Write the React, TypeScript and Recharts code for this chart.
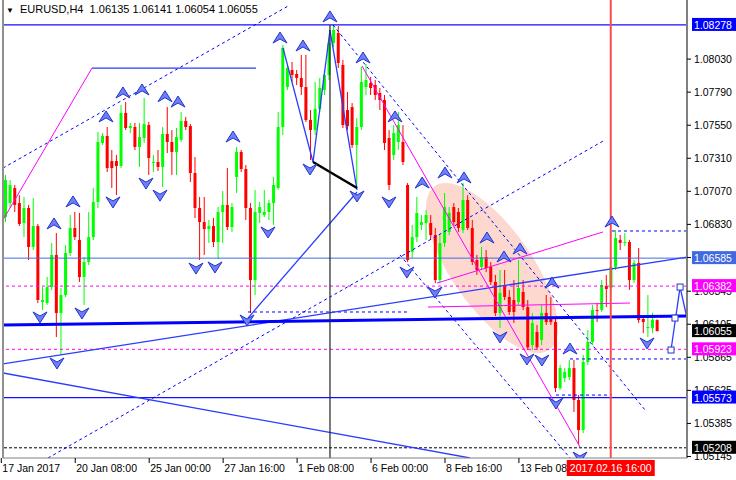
import React from 'react';
import { ComposedChart, Bar, XAxis, YAxis, ReferenceLine, ReferenceArea, Scatter } from 'recharts';

// ---- OHLC (EURUSD H4) ----
const opens = [1.06884,1.06985,1.07094,1.06985,1.06840,1.06949,1.06666,1.06818,1.06266,1.06259,1.06375,1.06608,1.06187,1.06317,1.06622,1.06804,1.06717,1.06448,1.06557,1.06738,1.06993,1.07421,1.07472,1.07290,1.07290,1.07254,1.07639,1.07530,1.07537,1.07392,1.07457,1.07551,1.07276,1.07283,1.07247,1.07486,1.07428,1.07356,1.07443,1.07581,1.07544,1.07203,1.06949,1.06847,1.06796,1.06818,1.06702,1.06920,1.06971,1.06811,1.07174,1.07356,1.07232,1.06949,1.06426,1.06913,1.06898,1.06920,1.06985,1.07094,1.07537,1.07827,1.07951,1.07922,1.07893,1.07827,1.07588,1.07515,1.07668,1.07806,1.07915,1.08147,1.08219,1.07987,1.07660,1.07682,1.07406,1.07537,1.07827,1.07856,1.07842,1.07784,1.07733,1.07457,1.07334,1.07428,1.07428,1.07116,1.06630,1.06738,1.06826,1.06840,1.06840,1.06753,1.06426,1.06695,1.06775,1.06956,1.06920,1.06789,1.07007,1.06804,1.06571,1.06521,1.06593,1.06521,1.06412,1.06187,1.06390,1.06303,1.06281,1.06266,1.06339,1.06230,1.05954,1.06049,1.05991,1.06187,1.06158,1.06121,1.05642,1.05715,1.05722,1.05787,1.05555,1.05337,1.05831,1.05976,1.06208,1.06208,1.06383,1.06368,1.06521,1.06717,1.06695,1.06702,1.06426,1.06550,1.06143,1.06078,1.06078,1.06135];
const highs = [1.07189,1.07152,1.07116,1.07042,1.07029,1.06971,1.07021,1.06833,1.06375,1.06448,1.06695,1.06767,1.06368,1.06680,1.06898,1.06920,1.06913,1.06593,1.06920,1.07094,1.07501,1.07493,1.07537,1.07370,1.07334,1.07697,1.07718,1.07566,1.07566,1.07566,1.07748,1.07573,1.07334,1.07370,1.07537,1.07682,1.07515,1.07530,1.07646,1.07610,1.07559,1.07319,1.07029,1.07029,1.06862,1.06876,1.06956,1.07072,1.07239,1.06985,1.07392,1.07370,1.07261,1.06985,1.07080,1.06993,1.07080,1.07007,1.07174,1.07646,1.08132,1.07987,1.08009,1.07951,1.08060,1.08060,1.07660,1.07864,1.07893,1.07951,1.08183,1.08278,1.08270,1.08023,1.07791,1.07711,1.07602,1.07973,1.07994,1.07900,1.07878,1.07820,1.07769,1.07515,1.07551,1.07646,1.07551,1.07130,1.06826,1.07029,1.06898,1.06934,1.06898,1.06804,1.06753,1.07058,1.06956,1.06985,1.06949,1.07130,1.07042,1.06862,1.06608,1.06666,1.06644,1.06557,1.06463,1.06499,1.06499,1.06354,1.06426,1.06571,1.06426,1.06281,1.06187,1.06100,1.06245,1.06317,1.06303,1.06150,1.05810,1.05787,1.05845,1.05845,1.05591,1.05882,1.06063,1.06245,1.06259,1.06426,1.06463,1.06571,1.06789,1.06753,1.06767,1.06717,1.06571,1.06659,1.06158,1.06317,1.06187,1.06141];
const lows = [1.06847,1.06949,1.06920,1.06818,1.06738,1.06571,1.06644,1.06259,1.06208,1.06245,1.06354,1.06012,1.05882,1.06303,1.06600,1.06717,1.06412,1.06245,1.06535,1.06717,1.06949,1.07406,1.07210,1.07094,1.07042,1.07239,1.07515,1.07493,1.07370,1.07247,1.07421,1.07189,1.07210,1.07218,1.07101,1.07348,1.07189,1.07189,1.07428,1.07515,1.07138,1.06876,1.06571,1.06608,1.06695,1.06666,1.06579,1.06695,1.06789,1.06775,1.07058,1.07210,1.06862,1.06187,1.06317,1.06840,1.06884,1.06862,1.06826,1.07080,1.07479,1.07806,1.07864,1.07842,1.07769,1.07573,1.07297,1.07479,1.07646,1.07769,1.07878,1.08118,1.07965,1.07530,1.07515,1.07385,1.07094,1.07515,1.07769,1.07769,1.07733,1.07660,1.07370,1.07080,1.07297,1.07370,1.07261,1.06557,1.06586,1.06702,1.06789,1.06717,1.06717,1.06404,1.06404,1.06666,1.06753,1.06826,1.06775,1.06767,1.06789,1.06535,1.06463,1.06499,1.06484,1.06390,1.06165,1.06078,1.06281,1.06172,1.06114,1.06245,1.06208,1.05918,1.05918,1.05918,1.05954,1.06100,1.06100,1.05613,1.05628,1.05686,1.05700,1.05468,1.05228,1.05315,1.05810,1.05954,1.06121,1.06194,1.06230,1.06339,1.06499,1.06644,1.06673,1.06354,1.06404,1.06114,1.06041,1.06012,1.06041,1.06054];
const closes = [1.07152,1.07116,1.06971,1.06833,1.06949,1.06666,1.06818,1.06281,1.06281,1.06375,1.06608,1.06187,1.06317,1.06622,1.06804,1.06738,1.06448,1.06557,1.06738,1.06993,1.07428,1.07472,1.07239,1.07239,1.07254,1.07639,1.07530,1.07544,1.07392,1.07464,1.07559,1.07312,1.07283,1.07247,1.07486,1.07428,1.07356,1.07464,1.07581,1.07537,1.07203,1.06949,1.06847,1.06796,1.06818,1.06702,1.06920,1.06971,1.06811,1.06956,1.07356,1.07232,1.06949,1.06426,1.06920,1.06956,1.06920,1.06985,1.07116,1.07537,1.08111,1.07965,1.07915,1.07893,1.07827,1.07588,1.07515,1.07668,1.07820,1.07915,1.08147,1.08241,1.08002,1.07551,1.07544,1.07406,1.07537,1.07864,1.07878,1.07820,1.07769,1.07733,1.07421,1.07116,1.07493,1.07551,1.07283,1.06571,1.06738,1.06913,1.06847,1.06898,1.06753,1.06426,1.06695,1.06956,1.06913,1.06847,1.06804,1.07007,1.06804,1.06557,1.06499,1.06593,1.06513,1.06412,1.06187,1.06332,1.06303,1.06194,1.06194,1.06368,1.06230,1.05937,1.06114,1.05937,1.06187,1.06121,1.06121,1.05642,1.05787,1.05758,1.05787,1.05555,1.05337,1.05831,1.05976,1.06208,1.06201,1.06390,1.06361,1.06521,1.06731,1.06695,1.06702,1.06426,1.06550,1.06136,1.06121,1.06085,1.06136,1.06055];
const SLOTS = 148;

// ---- axis ticks ----
const xTickIdx = [0, 16, 32, 48, 64, 80, 96, 112, 131];
const xTickText = ['17 Jan 2017', '20 Jan 08:00', '25 Jan 00:00', '27 Jan 16:00', '1 Feb 08:00', '6 Feb 00:00', '8 Feb 16:00', '13 Feb 08:00', '2017.02.16 16:00'];
const yTicks = [1.0803, 1.0779, 1.0755, 1.0731, 1.0707, 1.0683, 1.0659, 1.06345, 1.06105, 1.05865, 1.05625, 1.05385, 1.05145];
const boxPrices = [1.08278, 1.06585, 1.06382, 1.05923, 1.05573, 1.05208, 1.06055];
const boxColors = ['#0000ff', '#4169e1', '#ff00ff', '#ff00ff', '#0000ff', '#000000', '#000000'];

// ---- horizontal levels ----
const blueLevels = [1.08278, 1.05573];
const royalLevels = [1.06585];
const magentaLevels = [1.06382, 1.05923];
const blackLevels = [1.05208];

// ---- trend lines [bar1, price1, bar2, price2] ----
const blueSolidLines = [
  [-0.5, 1.05817, 147.5, 1.06593],
  [-0.5, 1.05751, 100.55, 1.05134],
  [52.51, 1.0615, 76.1, 1.07065],
  [18.76, 1.07965, 54.24, 1.07965],
  [60.08, 1.08111, 66.58, 1.07283],
  [66.58, 1.07283, 70.25, 1.08241],
  [70.25, 1.08241, 76.1, 1.0708],
  [144.04, 1.05918, 146.0, 1.06375],
  [146.0, 1.06375, 147.5, 1.0615],
];
const blueDashedLines = [
  [-0.5, 1.07239, 61.6, 1.08423],
  [9.24, 1.05134, 129.76, 1.07443],
  [52.51, 1.06194, 87.56, 1.06194],
  [70.9, 1.08278, 138.41, 1.05483],
  [85.4, 1.06608, 122.18, 1.05134],
  [131.27, 1.06782, 147.5, 1.06782],
  [122.18, 1.05853, 147.5, 1.05853],
  [119.15, 1.05591, 131.27, 1.05591],
];
const magentaLines = [
  [-0.5, 1.06862, 18.76, 1.07965],
  [77.18, 1.0798, 124.35, 1.05214],
  [93.41, 1.06404, 129.33, 1.06775],
  [91.46, 1.0623, 135.17, 1.06259],
];
const thickBlueLine = [-0.5, 1.061, 147.5, 1.06165];
const blackThickLine = [66.58, 1.07283, 76.1, 1.07094];
const blackVertical = [70.25, 1.08278, 70.25, 1.05134];
const cursorBar = 131;
const chartLeftEdge = -0.5;

// ---- fractals / objects ----
const upArrows = [[10.54,1.06833],[14.65,1.06993],[21.79,1.0761],[25.46,1.07784],[29.58,1.07806],[34.55,1.07757],[37.37,1.07718],[49.27,1.07464],[59.44,1.08183],[64.41,1.08125],[70.25,1.08336],[77.4,1.08038],[84.32,1.0761],[90.2,1.0713],[95.14,1.07203],[99.25,1.07167],[104.22,1.06731],[107.9,1.06593],[111.37,1.06651],[118.29,1.06404],[122.18,1.05925],[131.27,1.06847]];
const downArrows = [[7.51,1.06158],[16.59,1.06187],[11.18,1.05824],[23.3,1.06993],[30.44,1.0713],[33.47,1.07042],[41.26,1.06513],[45.37,1.06521],[52.3,1.06136],[56.84,1.06775],[65.93,1.07232],[76.1,1.07036],[83.02,1.06993],[86.9,1.06484],[92.98,1.06339],[107.04,1.06013],[112.88,1.05853],[116.1,1.05845],[119.15,1.05533],[124.35,1.05141],[138.85,1.05969]];
const forecastPoints = [[144.04, 1.05918], [144.9, 1.0615], [146.0, 1.06375]];
// ellipse centre (bar, price) plus a tiny half-extent used to anchor it
const ellipseCenter = [105.3, 1.06513];
const ellipseAnchor = [0.1, 0.00003];

const FONT = '"Liberation Sans", Arial, sans-serif';

const data = Array.from({ length: SLOTS }, (_, t) =>
  t < opens.length
    ? { t, range: [lows[t], highs[t]], o: opens[t], h: highs[t], l: lows[t], c: closes[t] }
    : { t }
);
const toPts = (arr: number[][]) => arr.map(([x, y]) => ({ x, y }));

const Candle = (props: any) => {
  const { x, width, payload } = props;
  let { y, height } = props;
  if (!payload || payload.o == null || y == null || isNaN(y)) return <g />;
  if (height < 0) { y = y + height; height = -height; }
  const { o, c, h, l } = payload;
  const up = c >= o;
  const color = up ? '#00ff00' : '#ff0000';
  const ppu = h > l ? height / (h - l) : 0;
  const top = y + (h - Math.max(o, c)) * ppu;
  const bot = y + (h - Math.min(o, c)) * ppu;
  const cx = x + width / 2;
  return (
    <g>
      <line x1={cx} x2={cx} y1={y} y2={y + height} stroke={color} strokeWidth={1} />
      <rect x={x} y={top} width={width} height={Math.max(1, bot - top)} fill={color} />
    </g>
  );
};

const UpArrow = (p: any) => {
  const { cx, cy } = p;
  return (
    <polygon
      points={`${cx},${cy - 6} ${cx + 7},${cy + 5} ${cx},${cy + 1} ${cx - 7},${cy + 5}`}
      fill="#6f7ff5" stroke="#2233cc" strokeWidth={1} strokeLinejoin="round"
    />
  );
};
const DownArrow = (p: any) => {
  const { cx, cy } = p;
  return (
    <polygon
      points={`${cx},${cy + 6} ${cx + 7},${cy - 5} ${cx},${cy - 1} ${cx - 7},${cy - 5}`}
      fill="#6f7ff5" stroke="#2233cc" strokeWidth={1} strokeLinejoin="round"
    />
  );
};
const Square = (p: any) => (
  <rect x={p.cx - 3} y={p.cy - 3} width={6} height={6} fill="#fff" stroke="#2233cc" strokeWidth={1} />
);
const EllipseShape = (p: any) => {
  const cx = p.x + p.width / 2;
  const cy = p.y + p.height / 2;
  return <ellipse cx={cx} cy={cy} rx={100} ry={40} transform={`rotate(55 ${cx} ${cy})`} fill="#fcd8cf" />;
};

const renderYTick = (props: any) => {
  const { x, y, payload } = props;
  const v = payload.value as number;
  const bi = boxPrices.indexOf(v);
  if (bi >= 0) {
    return (
      <g>
        <rect x={x + 5} y={y - 7} width={44} height={13} fill={boxColors[bi]} />
        <text x={x + 7} y={y + 4} fill="#fff" fontSize={10.5} fontFamily={FONT}>{v.toFixed(5)}</text>
      </g>
    );
  }
  return (
    <g>
      <line x1={x} x2={x + 4} y1={y} y2={y} stroke="#000" />
      <text x={x + 7} y={y + 4} fill="#000" fontSize={10.5} fontFamily={FONT}>{v.toFixed(5)}</text>
    </g>
  );
};

const renderXTick = (props: any) => {
  const { x, y, payload } = props;
  const idx = xTickIdx.indexOf(payload.value);
  const label = xTickText[idx];
  if (payload.value === cursorBar) {
    return (
      <g>
        <rect x={x - 44} y={y + 2} width={88} height={16} fill="#ff0000" />
        <text x={x} y={y + 14} textAnchor="middle" fill="#fff" fontSize={10.5} fontFamily={FONT}>{label}</text>
      </g>
    );
  }
  return (
    <g>
      <line x1={x - 4} x2={x - 4} y1={y} y2={y + 5} stroke="#000" />
      <text x={x - 3} y={y + 14} textAnchor="start" fill="#000" fontSize={10.5} fontFamily={FONT}>{label}</text>
    </g>
  );
};

const seg = (s: number[]) => [{ x: s[0], y: s[1] }, { x: s[2], y: s[3] }];

export default function App() {
  return (
    <div style={{ position: 'absolute', left: 0, top: 0, width: 736, height: 480, background: '#fff' }}>
      <ComposedChart width={736} height={480} data={data} margin={{ top: 0, right: 0, bottom: 0, left: 3 }}>
        <XAxis dataKey="t" type="category" ticks={xTickIdx} interval={0} tick={renderXTick} tickLine={false}
          tickSize={0} tickMargin={0} height={22} axisLine={{ stroke: '#808080' }} />
        <XAxis xAxisId="n" type="number" dataKey="x" domain={[-0.5, 147.5]} allowDataOverflow hide />
        <YAxis orientation="right" width={49} domain={[1.05134, 1.08459]} allowDataOverflow
          ticks={[...yTicks, ...boxPrices]} interval={0} tick={renderYTick} tickLine={false}
          tickSize={0} tickMargin={0} axisLine={{ stroke: '#808080', strokeWidth: 2 }} />

        <ReferenceArea xAxisId="n"
          x1={ellipseCenter[0] - ellipseAnchor[0]} x2={ellipseCenter[0] + ellipseAnchor[0]}
          y1={ellipseCenter[1] - ellipseAnchor[1]} y2={ellipseCenter[1] + ellipseAnchor[1]}
          shape={EllipseShape} ifOverflow="visible" />

        {blueLevels.map((v, k) => (
          <ReferenceLine key={'bl' + k} xAxisId="n" y={v} stroke="#1010ff" strokeWidth={1.2} ifOverflow="hidden" />
        ))}
        {royalLevels.map((v, k) => (
          <ReferenceLine key={'rl' + k} xAxisId="n" y={v} stroke="#4169e1" strokeWidth={1} ifOverflow="hidden" />
        ))}
        {magentaLevels.map((v, k) => (
          <ReferenceLine key={'ml' + k} xAxisId="n" y={v} stroke="#ff00ff" strokeDasharray="3 3" ifOverflow="hidden" />
        ))}
        {blackLevels.map((v, k) => (
          <ReferenceLine key={'kl' + k} xAxisId="n" y={v} stroke="#000" strokeDasharray="3 2" ifOverflow="hidden" />
        ))}

        <Bar dataKey="range" barSize={3} shape={Candle} isAnimationActive={false} />

        {blueDashedLines.map((s, k) => (
          <ReferenceLine key={'bd' + k} xAxisId="n" segment={seg(s)} stroke="#0000ff" strokeDasharray="3 3" ifOverflow="hidden" />
        ))}
        {blueSolidLines.map((s, k) => (
          <ReferenceLine key={'bs' + k} xAxisId="n" segment={seg(s)} stroke="#2a3cff" strokeWidth={1.3} ifOverflow="hidden" />
        ))}
        {magentaLines.map((s, k) => (
          <ReferenceLine key={'mg' + k} xAxisId="n" segment={seg(s)} stroke="#ff00ff" strokeWidth={1} ifOverflow="hidden" />
        ))}
        <ReferenceLine xAxisId="n" segment={seg(thickBlueLine)} stroke="#0000ff" strokeWidth={3} ifOverflow="hidden" />
        <ReferenceLine xAxisId="n" segment={seg(blackThickLine)} stroke="#000" strokeWidth={2.5} ifOverflow="hidden" />
        <ReferenceLine xAxisId="n" segment={seg(blackVertical)} stroke="#222" strokeWidth={1.2} ifOverflow="hidden" />
        <ReferenceLine xAxisId="n" x={cursorBar} stroke="#ff4a4a" strokeWidth={2} ifOverflow="hidden" />
        <ReferenceLine xAxisId="n" x={chartLeftEdge} stroke="#909090" strokeWidth={2} ifOverflow="visible" />

        <Scatter xAxisId="n" data={toPts(upArrows)} dataKey="y" shape={UpArrow} isAnimationActive={false} />
        <Scatter xAxisId="n" data={toPts(downArrows)} dataKey="y" shape={DownArrow} isAnimationActive={false} />
        <Scatter xAxisId="n" data={toPts(forecastPoints)} dataKey="y" shape={Square} isAnimationActive={false} />
      </ComposedChart>
      <div style={{ position: 'absolute', left: 6, top: 3, fontFamily: FONT, fontSize: 11, color: '#000', whiteSpace: 'pre' }}>
        <span style={{ fontSize: 8, marginRight: 6 }}>▼</span>EURUSD,H4  1.06135 1.06141 1.06054 1.06055
      </div>
    </div>
  );
}
